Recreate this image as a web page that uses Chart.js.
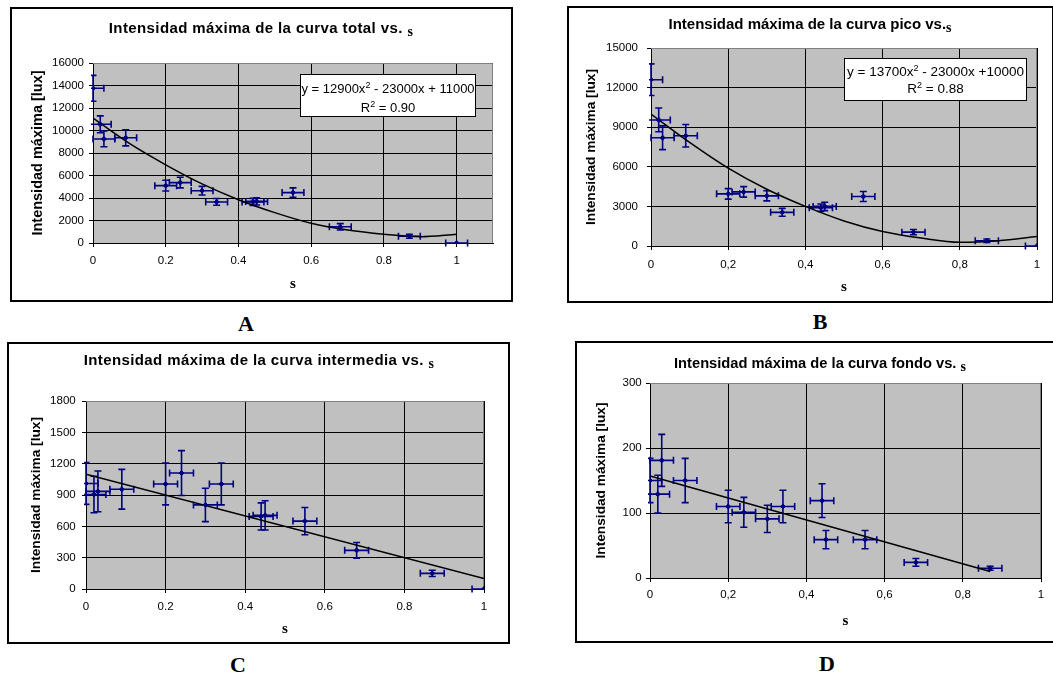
<!DOCTYPE html>
<html>
<head>
<meta charset="utf-8">
<script src="https://cdn.jsdelivr.net/npm/chart.js@4.4.0/dist/chart.umd.min.js"></script>
<style>
  body { margin: 0; width: 1053px; height: 674px; overflow: hidden; position: relative; background: #fff;
         font-family: "Liberation Sans", Arial, sans-serif; color: #000; }
  .panel { position: absolute; border: 2px solid #000; box-sizing: border-box; }
  canvas { position: absolute; }
  .title { position: absolute; font-weight: bold; font-size: 15px; line-height: 18px; white-space: nowrap;
           transform: translate(-50%, -50%); }
  .title .s { font-family: "Liberation Serif", "Times New Roman", serif; font-size: 14px; vertical-align: -3px; }
  .letter { position: absolute; font-family: "Liberation Serif", "Times New Roman", serif; font-weight: bold;
            font-size: 22px; transform: translate(-50%, -50%); }
  .eq { position: absolute; background: #fff; border: 1.5px solid #000; box-sizing: border-box; font-size: 13px; }
  .eq div { position: absolute; left: -10px; right: -10px; text-align: center; white-space: nowrap; line-height: 16px; }
  sup { font-size: 9px; vertical-align: 5px; line-height: 0; }
</style>
</head>
<body>

<div class="panel" style="left:10px;top:7px;width:503px;height:295px"></div>
<div class="panel" style="left:567px;top:6px;width:487px;height:297px"></div>
<div class="panel" style="left:7px;top:342px;width:503px;height:302px"></div>
<div class="panel" style="left:575px;top:341px;width:500px;height:302px"></div>

<canvas id="chartA" width="503" height="295" style="left:10px;top:7px"></canvas>
<canvas id="chartB" width="485" height="295" style="left:568px;top:7px"></canvas>
<canvas id="chartC" width="501" height="300" style="left:8px;top:343px"></canvas>
<canvas id="chartD" width="477" height="300" style="left:576px;top:342px"></canvas>

<div class="title" style="left:261px;top:30px;letter-spacing:0.4px">Intensidad máxima de la curva total vs. <span class="s">s</span></div>
<div class="title" style="left:810px;top:26px">Intensidad máxima de la curva pico vs.<span class="s">s</span></div>
<div class="title" style="left:259px;top:362px;letter-spacing:0.4px">Intensidad máxima de la curva intermedia vs. <span class="s">s</span></div>
<div class="title" style="left:820px;top:365px;font-size:14.7px">Intensidad máxima de la curva fondo vs. <span class="s">s</span></div>

<div class="eq" style="left:300px;top:74px;width:176px;height:43px">
  <div style="top:6px">y = 12900x<sup>2</sup> - 23000x + 11000</div>
  <div style="top:25px">R<sup>2</sup> = 0.90</div>
</div>
<div class="eq" style="left:844px;top:58px;width:183px;height:43px;font-size:13.5px">
  <div style="top:5px">y = 13700x<sup>2</sup> - 23000x +10000</div>
  <div style="top:22px">R<sup>2</sup> = 0.88</div>
</div>

<div class="letter" style="left:246px;top:324px">A</div>
<div class="letter" style="left:820px;top:322px">B</div>
<div class="letter" style="left:238px;top:665px">C</div>
<div class="letter" style="left:827px;top:664px">D</div>

<script>
// s values shared by all four panels, with their horizontal error
const sValues = [0, 0.02, 0.03, 0.09, 0.2, 0.24, 0.3, 0.34, 0.44, 0.45, 0.55, 0.68, 0.87, 1];
const sErr = [0.03, 0.03, 0.03, 0.03, 0.03, 0.03, 0.03, 0.03, 0.03, 0.03, 0.03, 0.03, 0.03, 0.03];

// A - curva total
const totalMax = [13750, 10550, 9250, 9350, 5100, 5370, 4650, 3650, 3650, 3700, 4480, 1440, 600, 0];
const totalErr = [1150, 750, 700, 720, 480, 470, 380, 300, 320, 320, 420, 280, 180, 0];
// B - curva pico
const picoMax = [12600, 9550, 8200, 8350, 3950, 4100, 3800, 2550, 2900, 3000, 3750, 1050, 400, 0];
const picoErr = [1200, 900, 900, 850, 400, 400, 380, 300, 280, 320, 380, 200, 130, 0];
// C - curva intermedia
const interMax = [1010, 905, 935, 955, 1005, 1110, 805, 1005, 695, 705, 650, 370, 150, 0];
const interErr = [200, 175, 195, 190, 200, 215, 160, 200, 130, 140, 130, 75, 30, 0];
// D - curva fondo (no point at s = 1)
const fondoMax = [150, 129, 181, 150, 110, 101, 91, 110, 119, 59, 59, 24, 15];
const fondoErr = [34, 29, 40, 34, 25, 23, 21, 25, 26, 14, 14, 6, 3];

// trend lines
const trendS = [0, 0.1, 0.2, 0.3, 0.4, 0.5, 0.6, 0.7, 0.8, 0.9, 1];
const totalTrend = [11100, 8850, 6950, 5250, 3850, 2700, 1750, 1150, 780, 560, 780];
const picoTrend = [10000, 7850, 5900, 4300, 3000, 1900, 1100, 600, 280, 400, 720];
const interTrendS = [0, 1];
const interTrend = [1100, 100];
const fondoTrendS = [0, 0.87];
const fondoTrend = [157, 10];

const NAVY = '#000080';
Chart.defaults.font.family = '"Liberation Sans", Arial, sans-serif';
Chart.defaults.color = '#000';

const toPoints = (xs, ys) => ys.map((y, i) => ({ x: xs[i], y: y }));

// grey plot background, grey top/right frame and the error bars
const plotFrame = {
  id: 'plotFrame',
  beforeDraw(chart) {
    const a = chart.chartArea, ctx = chart.ctx;
    ctx.save();
    ctx.fillStyle = '#c0c0c0';
    ctx.fillRect(a.left, a.top, a.right - a.left, a.bottom - a.top);
    ctx.restore();
  },
  beforeDatasetsDraw(chart) {
    const a = chart.chartArea, ctx = chart.ctx;
    const xs = chart.scales.x, ys = chart.scales.y;
    ctx.save();
    ctx.strokeStyle = '#808080';
    ctx.lineWidth = 1;
    ctx.beginPath();
    ctx.moveTo(a.left, a.top + 0.5);
    ctx.lineTo(Math.round(a.right) - 0.5, a.top + 0.5);
    ctx.lineTo(Math.round(a.right) - 0.5, a.bottom);
    ctx.stroke();

    ctx.beginPath();
    ctx.rect(a.left - 2, a.top, a.right - a.left + 2, a.bottom - a.top + 4);
    ctx.clip();
    const ds = chart.data.datasets[0];
    ctx.strokeStyle = NAVY;
    ctx.lineWidth = 1.6;
    const cap = 3.5;
    ds.data.forEach((p, i) => {
      const px = xs.getPixelForValue(p.x), py = ys.getPixelForValue(p.y);
      const ey = ds.yErr[i], ex = ds.xErr[i];
      ctx.beginPath();
      if (ey > 0) {
        const y1 = ys.getPixelForValue(p.y + ey), y2 = ys.getPixelForValue(p.y - ey);
        ctx.moveTo(px, y1); ctx.lineTo(px, y2);
        ctx.moveTo(px - cap, y1); ctx.lineTo(px + cap, y1);
        ctx.moveTo(px - cap, y2); ctx.lineTo(px + cap, y2);
      }
      if (ex > 0) {
        const x1 = xs.getPixelForValue(p.x - ex), x2 = xs.getPixelForValue(p.x + ex);
        ctx.moveTo(x1, py); ctx.lineTo(x2, py);
        ctx.moveTo(x1, py - cap); ctx.lineTo(x1, py + cap);
        ctx.moveTo(x2, py - cap); ctx.lineTo(x2, py + cap);
      }
      ctx.stroke();
    });
    ctx.restore();
  }
};

function buildChart(id, o) {
  return new Chart(document.getElementById(id), {
    type: 'scatter',
    data: {
      datasets: [
        {
          data: toPoints(sValues, o.values),
          xErr: sErr,
          yErr: o.errors,
          pointStyle: 'rectRot',
          pointRadius: 2.5,
          backgroundColor: NAVY,
          borderColor: NAVY,
          borderWidth: 1
        },
        {
          data: toPoints(o.trendX, o.trendY),
          showLine: true,
          pointRadius: 0,
          borderColor: '#000',
          borderWidth: 1.5,
          cubicInterpolationMode: 'monotone'
        }
      ]
    },
    options: {
      responsive: false,
      animation: false,
      events: [],
      layout: { padding: { left: 0, top: o.padTop, right: o.padRight, bottom: 0 } },
      plugins: { legend: { display: false }, tooltip: { enabled: false } },
      scales: {
        x: {
          type: 'linear',
          min: 0,
          max: o.xMax,
          afterBuildTicks: (s) => { s.ticks = s.ticks.filter((t) => t.value <= 1.0001); },
          afterFit: (s) => { s.height = o.xHeight; },
          grid: { color: '#000', lineWidth: 1, tickLength: 4 },
          border: { color: '#000', width: 1 },
          ticks: {
            stepSize: 0.2,
            padding: o.xTickPad,
            font: { size: 11.5 },
            color: '#000',
            maxRotation: 0,
            callback: (v) => {
              const t = String(Math.round(v * 10) / 10);
              return o.comma ? t.replace('.', ',') : t;
            }
          },
          title: {
            display: true,
            text: 's',
            color: '#000',
            font: { family: '"Liberation Serif", "Times New Roman", serif', size: 15, weight: 'bold' },
            padding: { top: 0, bottom: o.xTitlePad }
          }
        },
        y: {
          min: 0,
          max: o.yMax,
          afterFit: (s) => { s.width = o.yWidth; },
          grid: { color: '#000', lineWidth: 1, tickLength: 4 },
          border: { color: '#000', width: 1 },
          ticks: {
            stepSize: o.yStep,
            padding: o.yTickPad,
            font: { size: 11.5 },
            color: '#000',
            callback: (v) => String(v)
          },
          title: {
            display: true,
            text: 'Intensidad máxima [lux]',
            color: '#000',
            font: { size: o.yTitleSize, weight: 'bold' },
            padding: { top: o.yTitlePad, bottom: 0 }
          }
        }
      }
    },
    plugins: [plotFrame]
  });
}

buildChart('chartA', {
  values: totalMax, errors: totalErr, trendX: trendS, trendY: totalTrend,
  xMax: 1.1, yMax: 16000, yStep: 2000, comma: false,
  padTop: 56, padRight: 20, yWidth: 83, xHeight: 59,
  yTitleSize: 14.5, yTitlePad: 19, xTitlePad: 8.6, yTickPad: 5, xTickPad: 6.8
});

buildChart('chartB', {
  values: picoMax, errors: picoErr, trendX: trendS, trendY: picoTrend,
  xMax: 1, yMax: 15000, yStep: 3000, comma: true,
  padTop: 41, padRight: 16, yWidth: 83, xHeight: 56,
  yTitleSize: 13.7, yTitlePad: 14.8, xTitlePad: 6.3, yTickPad: 9, xTickPad: 8.1
});

buildChart('chartC', {
  values: interMax, errors: interErr, trendX: interTrendS, trendY: interTrend,
  xMax: 1, yMax: 1800, yStep: 300, comma: false,
  padTop: 58, padRight: 25, yWidth: 78, xHeight: 54,
  yTitleSize: 13.7, yTitlePad: 19.7, xTitlePad: 5.3, yTickPad: 6.3, xTickPad: 6.8
});

buildChart('chartD', {
  values: fondoMax, errors: fondoErr, trendX: fondoTrendS, trendY: fondoTrend,
  xMax: 1, yMax: 300, yStep: 100, comma: true,
  padTop: 41, padRight: 12, yWidth: 74, xHeight: 64,
  yTitleSize: 13.7, yTitlePad: 17.5, xTitlePad: 12.1, yTickPad: 4.3, xTickPad: 6.1
});
</script>
</body>
</html>
